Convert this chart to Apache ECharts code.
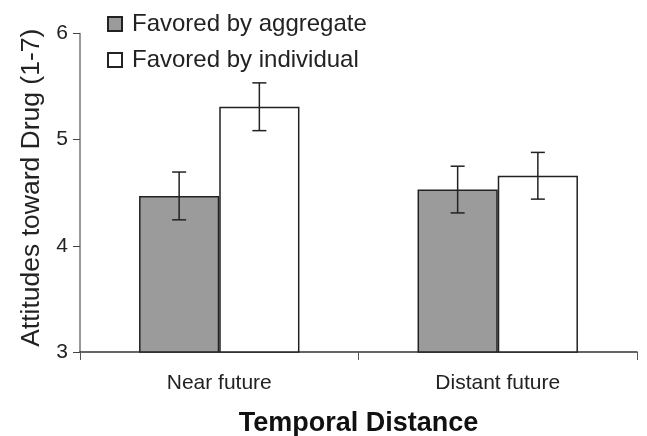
<!DOCTYPE html>
<html>
<head>
<meta charset="utf-8">
<script src="https://cdn.jsdelivr.net/npm/echarts@6/dist/echarts.min.js"></script>
<style>html,body{margin:0;padding:0;background:#fff}#c{width:647px;height:436px}</style>
</head>
<body>
<div id="c"></div>
<script>
var categories = ['Near future', 'Distant future'];
var aggregateMeans = [4.47, 4.53];
var aggregateErrors = [0.225, 0.22];
var individualMeans = [5.31, 4.66];
var individualErrors = [0.225, 0.22];
var seriesNames = ['Favored by aggregate', 'Favored by individual'];

var chart = echarts.init(document.getElementById('c'));
var FONT = '"Liberation Sans", Arial, sans-serif';

function errData(means, errs) {
  return means.map(function (m, i) { return [i, m - errs[i], m + errs[i]]; });
}
function errSeries(means, errs, offsetIdx) {
  return {
    type: 'custom',
    silent: true,
    z: 10,
    data: errData(means, errs),
    encode: { x: 0, y: [1, 2] },
    renderItem: function (params, api) {
      var ci = api.value(0);
      var lo = api.coord([ci, api.value(1)]);
      var hi = api.coord([ci, api.value(2)]);
      var bw = api.size([1, 0])[0];
      var barW = bw * (1 - 0.424) / 2;
      var x = lo[0] + (offsetIdx === 0 ? -barW / 2 : barW / 2);
      var cap = 7;
      var st = { stroke: '#222', lineWidth: 1.5 };
      return {
        type: 'group',
        children: [
          { type: 'line', shape: { x1: x, y1: lo[1], x2: x, y2: hi[1] }, style: st },
          { type: 'line', shape: { x1: x - cap, y1: lo[1], x2: x + cap, y2: lo[1] }, style: st },
          { type: 'line', shape: { x1: x - cap, y1: hi[1], x2: x + cap, y2: hi[1] }, style: st }
        ]
      };
    }
  };
}

chart.setOption({
  animation: false,
  backgroundColor: '#fff',
  grid: { left: 80, right: 10, top: 33.5, bottom: 84, containLabel: false, outerBoundsMode: 'none' },
  legend: {
    data: seriesNames,
    orient: 'vertical',
    icon: 'rect',
    left: 107,
    top: 12,
    padding: 0,
    itemWidth: 14,
    itemHeight: 14,
    itemGap: 12,
    textStyle: { fontFamily: FONT, fontSize: 24, color: '#222', padding: [0, 0, 0, 5] }
  },
  xAxis: {
    type: 'category',
    data: categories,
    axisLine: { lineStyle: { color: '#333', width: 1.5 } },
    axisTick: { show: true, length: 8, interval: 0, lineStyle: { color: '#555' } },
    axisLabel: { fontFamily: FONT, fontSize: 21, color: '#222', margin: 21 },
    name: 'Temporal Distance',
    nameLocation: 'middle',
    nameGap: 58,
    nameTextStyle: { fontFamily: FONT, fontSize: 27, fontWeight: 'bold', color: '#111' }
  },
  yAxis: {
    type: 'value',
    min: 3,
    max: 6,
    interval: 1,
    splitLine: { show: false },
    axisLine: { show: true, lineStyle: { color: '#777', width: 1.5 } },
    axisTick: { show: true, length: 7, lineStyle: { color: '#444' } },
    axisLabel: { fontFamily: FONT, fontSize: 21, color: '#222', margin: 12 },
    name: 'Attitudes toward Drug (1-7)',
    nameLocation: 'middle',
    nameGap: 35,
    nameTextStyle: { fontFamily: FONT, fontSize: 26.5, color: '#222', padding: [0, 0, 0, 10] }
  },
  series: [
    {
      name: seriesNames[0],
      type: 'bar',
      data: aggregateMeans,
      barGap: '0%',
      barCategoryGap: '42.4%',
      itemStyle: { color: '#9a9b9a', borderColor: '#222', borderWidth: 1.5 }
    },
    {
      name: seriesNames[1],
      type: 'bar',
      data: individualMeans,
      barGap: '0%',
      barCategoryGap: '42.4%',
      itemStyle: { color: '#fff', borderColor: '#222', borderWidth: 1.5 }
    },
    errSeries(aggregateMeans, aggregateErrors, 0),
    errSeries(individualMeans, individualErrors, 1)
  ]
});
</script>
</body>
</html>
